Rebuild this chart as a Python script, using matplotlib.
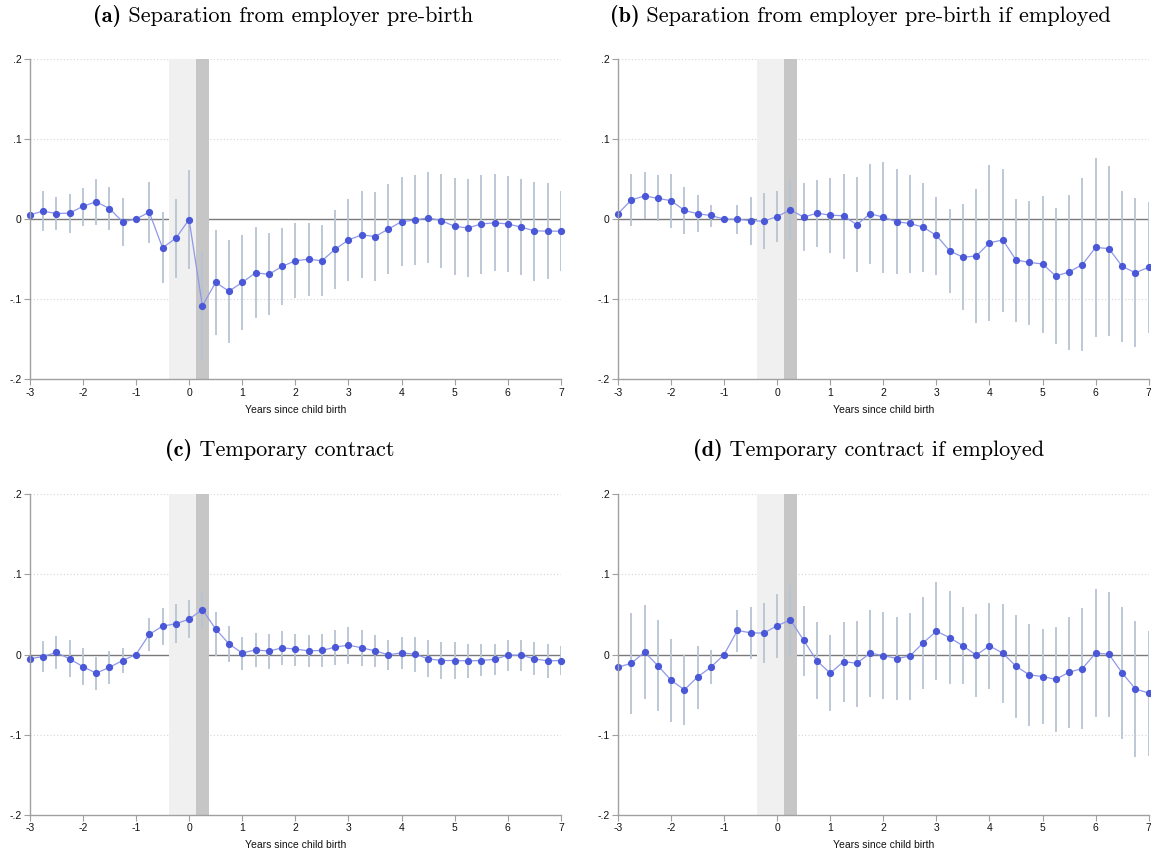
import numpy as np
import matplotlib
matplotlib.use("Agg")
import matplotlib.pyplot as plt

# Event time in years relative to child birth (quarterly)
years = np.arange(-3, 7.01, 0.25)

# (a) Separation from employer pre-birth
sep_coef = [0.0054, 0.010, 0.007, 0.0075, 0.016, 0.0217, 0.0133, -0.0033, 0.0, 0.0088,
            -0.0358, -0.0238, -0.0005, -0.1083, -0.079, -0.090, -0.079, -0.067, -0.069, -0.059,
            -0.052, -0.050, -0.052, -0.0375, -0.026, -0.0196, -0.0217, -0.0125, -0.003, -0.0013,
            0.0017, -0.002, -0.009, -0.011, -0.006, -0.0046, -0.006, -0.010, -0.0146, -0.015, -0.015]
sep_hi = [0.030, 0.0346, 0.028, 0.032, 0.039, 0.050, 0.040, 0.0267, np.nan, 0.047,
          0.009, 0.025, 0.0617, -0.041, -0.0133, -0.026, -0.020, -0.0104, -0.0175, -0.011,
          -0.0046, -0.0046, -0.0075, 0.011, 0.025, 0.0346, 0.034, 0.044, 0.053, 0.055,
          0.059, 0.056, 0.051, 0.050, 0.055, 0.056, 0.054, 0.050, 0.0467, 0.045, 0.035]
sep_lo = [-0.018, -0.0154, -0.014, -0.0167, -0.008, -0.007, -0.0133, -0.033, np.nan, -0.030,
          -0.080, -0.073, -0.0625, -0.176, -0.145, -0.155, -0.138, -0.124, -0.120, -0.1075,
          -0.099, -0.096, -0.096, -0.087, -0.0775, -0.074, -0.0775, -0.069, -0.058, -0.0575,
          -0.055, -0.061, -0.070, -0.0725, -0.068, -0.065, -0.066, -0.070, -0.0767, -0.075, -0.065]

# (b) Separation from employer pre-birth if employed
sepe_coef = [0.0067, 0.024, 0.029, 0.026, 0.023, 0.011, 0.0067, 0.0046, 0.0, 0.0,
             -0.002, -0.0025, 0.0033, 0.0117, 0.0025, 0.0075, 0.005, 0.0042, -0.007, 0.0067,
             0.0025, -0.0033, -0.0054, -0.010, -0.0204, -0.0396, -0.0475, -0.046, -0.0296, -0.026,
             -0.051, -0.054, -0.056, -0.071, -0.066, -0.0567, -0.0354, -0.0367, -0.059, -0.067, -0.060]
sepe_hi = [0.035, 0.056, 0.059, 0.0546, 0.057, 0.040, 0.030, 0.018, np.nan, 0.018,
           0.028, 0.0325, 0.035, 0.050, 0.0446, 0.049, 0.052, 0.057, 0.053, 0.069,
           0.071, 0.0625, 0.0554, 0.0454, 0.028, 0.0125, 0.019, 0.0375, 0.0675, 0.063,
           0.0246, 0.0225, 0.029, 0.014, 0.030, 0.052, 0.076, 0.066, 0.035, 0.026, 0.021]
sepe_lo = [-0.020, -0.008, 0.0004, -0.0017, -0.011, -0.018, -0.016, -0.0096, np.nan, -0.018,
           -0.0325, -0.0375, -0.029, -0.027, -0.040, -0.035, -0.0425, -0.050, -0.066, -0.056,
           -0.0667, -0.069, -0.0667, -0.0654, -0.070, -0.0925, -0.114, -0.130, -0.127, -0.116,
           -0.128, -0.132, -0.142, -0.156, -0.163, -0.165, -0.147, -0.1454, -0.153, -0.160, -0.142]

# (c) Temporary contract
tmp_coef = [-0.0054, -0.0025, 0.0025, -0.0054, -0.015, -0.0233, -0.016, -0.0075, 0.0, 0.025,
            0.0354, 0.0383, 0.044, 0.056, 0.0317, 0.0133, 0.0017, 0.0058, 0.0042, 0.0083,
            0.0067, 0.0046, 0.005, 0.0092, 0.0117, 0.0083, 0.0046, -0.0004, 0.002, 0.0004,
            -0.0054, -0.0075, -0.0075, -0.008, -0.0075, -0.006, -0.0008, -0.0008, -0.0054, -0.008, -0.0075]
tmp_hi = [0.012, 0.0167, 0.023, 0.0175, 0.008, -0.0033, 0.0042, 0.0075, np.nan, 0.045,
          0.058, 0.063, 0.0675, 0.079, 0.053, 0.036, 0.022, 0.0267, 0.025, 0.029,
          0.026, 0.024, 0.025, 0.030, 0.0346, 0.030, 0.0237, 0.018, 0.0217, 0.0217,
          0.0175, 0.0154, 0.0154, 0.0137, 0.013, 0.013, 0.0175, 0.0175, 0.015, 0.013, 0.0104]
tmp_lo = [-0.022, -0.022, -0.018, -0.028, -0.038, -0.044, -0.0367, -0.023, np.nan, 0.0046,
          0.012, 0.014, 0.021, 0.033, -0.002, -0.0096, -0.019, -0.015, -0.0175, -0.013,
          -0.0138, -0.015, -0.015, -0.013, -0.0117, -0.0146, -0.0154, -0.019, -0.018, -0.0217,
          -0.028, -0.031, -0.030, -0.029, -0.0267, -0.025, -0.020, -0.020, -0.0254, -0.029, -0.0254]

# (d) Temporary contract if employed
tmpe_coef = [-0.0158, -0.011, 0.003, -0.0138, -0.032, -0.044, -0.028, -0.0158, 0.0, 0.030,
             0.027, 0.0267, 0.036, 0.043, 0.0175, -0.008, -0.0233, -0.0088, -0.011, 0.0017,
             -0.0013, -0.005, -0.002, 0.0146, 0.029, 0.021, 0.0108, -0.0008, 0.0108, 0.0017,
             -0.0146, -0.0254, -0.0275, -0.031, -0.022, -0.0175, 0.0017, 0.0004, -0.023, -0.043, -0.048]
tmpe_hi = [0.040, 0.052, 0.0617, 0.043, 0.019, -0.0004, 0.011, 0.0054, np.nan, 0.056,
           0.059, 0.0646, 0.076, 0.0867, 0.061, 0.040, 0.024, 0.041, 0.042, 0.055,
           0.0525, 0.047, 0.0517, 0.072, 0.090, 0.079, 0.059, 0.050, 0.064, 0.0625,
           0.0496, 0.038, 0.0317, 0.0346, 0.0467, 0.0575, 0.0817, 0.078, 0.059, 0.0417, 0.029]
tmpe_lo = [-0.070, -0.074, -0.056, -0.070, -0.084, -0.088, -0.068, -0.0367, np.nan, 0.0033,
           -0.0054, -0.011, -0.004, -0.0013, -0.0267, -0.056, -0.071, -0.059, -0.065, -0.053,
           -0.056, -0.057, -0.057, -0.043, -0.032, -0.0367, -0.037, -0.053, -0.043, -0.060,
           -0.0796, -0.0896, -0.087, -0.096, -0.091, -0.093, -0.078, -0.078, -0.105, -0.128, -0.126]

titles = [("(a)", "Separation from employer pre-birth"),
          ("(b)", "Separation from employer pre-birth if employed"),
          ("(c)", "Temporary contract"),
          ("(d)", "Temporary contract if employed")]
panels = [(sep_coef, sep_lo, sep_hi), (sepe_coef, sepe_lo, sepe_hi),
          (tmp_coef, tmp_lo, tmp_hi), (tmpe_coef, tmpe_lo, tmpe_hi)]

y_ticks = [-0.2, -0.1, 0.0, 0.1, 0.2]
y_ticklabels = ["-.2", "-.1", "0", ".1", ".2"]
x_ticks = list(range(-3, 8))

plt.rcParams["font.family"] = ["Liberation Sans", "DejaVu Sans"]

W, H = 1151, 855
fig = plt.figure(figsize=(W / 100, H / 100), dpi=100)
renderer = fig.canvas.get_renderer()

# Axes boxes in pixels: (left, top, right, bottom)
boxes = [(29.7, 59, 561, 379.3), (618, 59, 1148.7, 379.3),
         (29.7, 494, 561, 815), (618, 494, 1148.7, 815)]
title_pos = [(283, 16), (860.5, 16), (280, 450), (868.5, 450)]
title_size = 16.0

point_col = "#4a58d8"
line_col = "#8f98e8"
ci_col = "#b7c4d4"
spine_col = "#a0a0a0"


def two_part_title(xc, yc, bold, rest):
    """Centre a bold label followed by regular text at pixel position (xc, yc)."""
    tb = fig.text(0, 0, bold, fontsize=title_size, family="cmb10", va="center")
    tr = fig.text(0, 0, " " + rest, fontsize=title_size, family="cmr10", va="center")
    wb = tb.get_window_extent(renderer).width
    wr = tr.get_window_extent(renderer).width
    x0 = xc - (wb + wr) / 2
    tb.set_position((x0 / W, 1 - yc / H))
    tr.set_position(((x0 + wb) / W, 1 - yc / H))


for (coef, lo, hi), box, (lab, ttl), tp in zip(panels, boxes, titles, title_pos):
    l, t, r, b = box
    ax = fig.add_axes([l / W, 1 - b / H, (r - l) / W, (b - t) / H])
    ax.set_xlim(-3, 7)
    ax.set_ylim(-0.2, 0.2)

    for g in (0.1, 0.2, -0.1):
        ax.axhline(g, color="#d6d6d6", lw=0.8, ls=(0, (1, 2)), zorder=0.5)
    ax.axhline(0, color="#7a7a7a", lw=1.0, zorder=1)

    ax.axvspan(-0.375, 0.125, color="#f0f0f0", lw=0, zorder=1.5)
    ax.axvspan(0.125, 0.375, color="#c6c6c6", lw=0, zorder=1.5)

    ax.vlines(years, lo, hi, color=ci_col, lw=1.3, zorder=2)
    ax.plot(years, coef, color=line_col, lw=0.9, zorder=3)
    ax.plot(years, coef, "o", color=point_col, ms=4.2, mec=point_col, zorder=4, clip_on=False)

    for s in ("top", "right"):
        ax.spines[s].set_visible(False)
    for s in ("left", "bottom"):
        ax.spines[s].set_color(spine_col)
        ax.spines[s].set_linewidth(1.0)
        ax.spines[s].set_zorder(5)

    ax.set_yticks(y_ticks)
    ax.set_yticklabels(y_ticklabels)
    ax.set_xticks(x_ticks)
    ax.set_xticklabels([str(v) for v in x_ticks])
    ax.tick_params(axis="both", length=4, width=0.8, color=spine_col, labelsize=7.5,
                   labelcolor="#111111", pad=2)
    ax.set_xlabel("Years since child birth", fontsize=7.5, labelpad=5, color="#111111")

    two_part_title(tp[0], tp[1], lab, ttl)

fig.savefig("out.png", dpi=100)
